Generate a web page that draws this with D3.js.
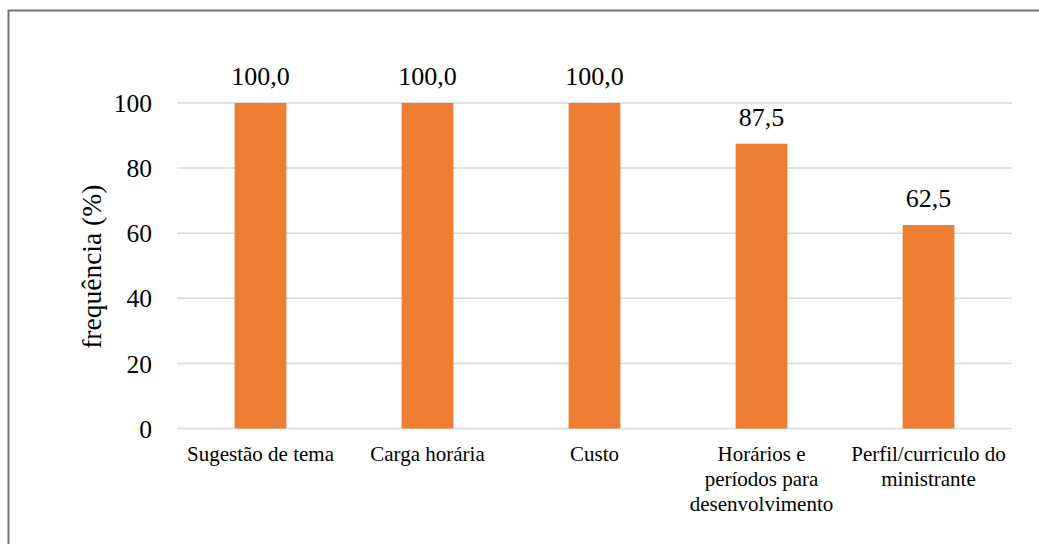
<!DOCTYPE html>
<html>
<head>
<meta charset="utf-8">
<script src="https://cdn.jsdelivr.net/npm/d3@7"></script>
<style>
  html, body { margin: 0; padding: 0; background: #fff; }
  svg { display: block; }
  svg text { font-family: "Liberation Serif", "Times New Roman", Times, "DejaVu Serif", serif; fill: #000; }
</style>
</head>
<body>
<svg id="chart" width="1039" height="544"></svg>
<script>
// Categories (line breaks mark wrapped labels)
const categories = [
  "Sugestão de tema",
  "Carga horária",
  "Custo",
  "Horários e\nperíodos para\ndesenvolvimento",
  "Perfil/curriculo do\nministrante"
];
const values = [100.0, 100.0, 100.0, 87.5, 62.5];
const yTicks = [0, 20, 40, 60, 80, 100];
const yTitle = "frequência (%)";

const W = 1039, H = 544;
const plot = { left: 177, right: 1012, top: 103, bottom: 428.5 };

const svg = d3.select("#chart");

// outer frame
svg.append("rect")
  .attr("x", 8.5).attr("y", 10.5)
  .attr("width", W + 20).attr("height", H + 20)
  .attr("fill", "none").attr("stroke", "#767676").attr("stroke-width", 2);

const x = d3.scaleBand()
  .domain(categories)
  .range([plot.left, plot.right])
  .paddingInner(0.69)
  .paddingOuter(0.345);

const y = d3.scaleLinear()
  .domain([0, 100])
  .range([plot.bottom, plot.top]);

// horizontal gridlines
svg.append("g")
  .selectAll("line")
  .data(yTicks)
  .join("line")
  .attr("x1", plot.left).attr("x2", plot.right)
  .attr("y1", d => y(d)).attr("y2", d => y(d))
  .attr("stroke", "#d9d9d9").attr("stroke-width", 1.5);

// y axis tick labels
const yAxis = d3.axisLeft(y).tickValues(yTicks).tickSize(0).tickPadding(0);
const gy = svg.append("g")
  .attr("transform", `translate(${plot.left - 25},0)`)
  .call(yAxis)
  .attr("font-family", null)
  .attr("font-size", null);
gy.select(".domain").remove();
gy.selectAll("text")
  .style("font-size", "25.5px")
  .attr("dy", "0.34em");

// axis title
svg.append("text")
  .attr("transform", `translate(101,${(plot.top + plot.bottom) / 2 + 1}) rotate(-90)`)
  .attr("text-anchor", "middle")
  .style("font-size", "27.5px")
  .text(yTitle);

// bars
svg.append("g")
  .selectAll("rect")
  .data(values)
  .join("rect")
  .attr("x", (d, i) => x(categories[i]))
  .attr("width", x.bandwidth())
  .attr("y", d => y(d))
  .attr("height", d => y(0) - y(d))
  .attr("fill", "#ED7D31");

// value labels
svg.append("g")
  .selectAll("text")
  .data(values)
  .join("text")
  .attr("x", (d, i) => x(categories[i]) + x.bandwidth() / 2)
  .attr("y", d => y(d) - 18)
  .attr("text-anchor", "middle")
  .style("font-size", "26px")
  .text(d => d.toFixed(1).replace(".", ","));

// category labels
const cat = svg.append("g")
  .selectAll("text")
  .data(categories)
  .join("text")
  .attr("x", d => x(d) + x.bandwidth() / 2)
  .attr("y", 461)
  .attr("text-anchor", "middle")
  .style("font-size", "21px");
cat.each(function (d) {
  const t = d3.select(this);
  d.split("\n").forEach((line, i) => {
    t.append("tspan")
      .attr("x", x(d) + x.bandwidth() / 2)
      .attr("dy", i === 0 ? 0 : 25)
      .text(line);
  });
});
</script>
</body>
</html>
